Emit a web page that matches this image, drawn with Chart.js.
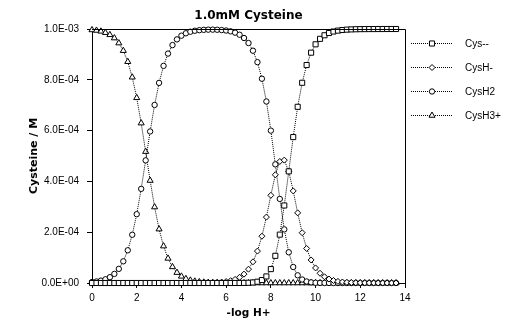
<!DOCTYPE html>
<html lang="en">
<head>
<meta charset="UTF-8">
<title>1.0mM Cysteine</title>
<script src="https://cdn.jsdelivr.net/npm/chart.js"></script>
<style>
  body { margin: 0; background: #fff; }
  #wrap { width: 520px; height: 330px; }
</style>
</head>
<body>
<div id="wrap"><canvas id="myChart" width="520" height="330"></canvas></div>
<script>
// -log H+ values (x axis)
const pH = [0, 0.2, 0.4, 0.6, 0.8, 1, 1.2, 1.4, 1.6, 1.8,
  2, 2.2, 2.4, 2.6, 2.8, 3, 3.2, 3.4, 3.6, 3.8,
  4, 4.2, 4.4, 4.6, 4.8, 5, 5.2, 5.4, 5.6, 5.8,
  6, 6.2, 6.4, 6.6, 6.8, 7, 7.2, 7.4, 7.6, 7.8,
  8, 8.2, 8.4, 8.6, 8.8, 9, 9.2, 9.4, 9.6, 9.8,
  10, 10.2, 10.4, 10.6, 10.8, 11, 11.2, 11.4, 11.6, 11.8,
  12, 12.2, 12.4, 12.6, 12.8, 13, 13.2, 13.4, 13.6];

// concentrations in mM (converted to M when plotted)
const cys = [0, 0, 0, 0, 0, 0, 0, 0, 0, 0,
  0, 0, 0, 0, 0, 0, 0, 0, 0, 0,
  0, 0, 0, 0, 0, 0, 0, 0, 0, 0,
  0, 0, 0.0001, 0.0001, 0.0004, 0.0009, 0.0021, 0.0050, 0.0116, 0.0259,
  0.0547, 0.1070, 0.1905, 0.3052, 0.4395, 0.5745, 0.6936, 0.7883, 0.8581, 0.9068,
  0.9397, 0.9613, 0.9753, 0.9843, 0.9901, 0.9937, 0.9960, 0.9975, 0.9984, 0.9990,
  0.9994, 0.9996, 0.9997, 0.9998, 0.9999, 0.9999, 1.0000, 1.0000, 1.0000];

const cysH = [0, 0, 0, 0, 0, 0, 0, 0, 0, 0,
  0, 0, 0, 0, 0, 0, 0, 0, 0, 0,
  0.0001, 0.0001, 0.0001, 0.0002, 0.0004, 0.0006, 0.0009, 0.0014, 0.0023, 0.0036,
  0.0057, 0.0090, 0.0142, 0.0224, 0.0350, 0.0544, 0.0834, 0.1257, 0.1842, 0.2595,
  0.3453, 0.4260, 0.4785, 0.4837, 0.4395, 0.3625, 0.2761, 0.1980, 0.1360, 0.0907,
  0.0593, 0.0383, 0.0245, 0.0156, 0.0099, 0.0063, 0.0040, 0.0025, 0.0016, 0.0010,
  0.0006, 0.0004, 0.0003, 0.0002, 0.0001, 0.0001, 0, 0, 0];

const cysH2 = [0.0037, 0.0059, 0.0093, 0.0146, 0.0229, 0.0358, 0.0556, 0.0854, 0.1288, 0.1899,
  0.2709, 0.3706, 0.4828, 0.5966, 0.7010, 0.7879, 0.8548, 0.9032, 0.9367, 0.9591,
  0.9737, 0.9832, 0.9893, 0.9931, 0.9954, 0.9967, 0.9974, 0.9975, 0.9970, 0.9959,
  0.9940, 0.9908, 0.9856, 0.9774, 0.9646, 0.9448, 0.9145, 0.8694, 0.8042, 0.7146,
  0.6000, 0.4671, 0.3310, 0.2111, 0.1210, 0.0630, 0.0303, 0.0137, 0.0059, 0.0025,
  0.0010, 0.0004, 0.0002, 0.0001, 0, 0, 0, 0, 0, 0,
  0, 0, 0, 0, 0, 0, 0, 0, 0];

const cysH3 = [0.9963, 0.9942, 0.9908, 0.9854, 0.9771, 0.9642, 0.9444, 0.9146, 0.8712, 0.8101,
  0.7291, 0.6294, 0.5172, 0.4034, 0.2990, 0.2121, 0.1452, 0.0968, 0.0633, 0.0409,
  0.0262, 0.0167, 0.0106, 0.0067, 0.0043, 0.0027, 0.0017, 0.0011, 0.0007, 0.0004,
  0.0003, 0.0002, 0.0001, 0.0001, 0, 0, 0, 0, 0, 0,
  0, 0, 0, 0, 0, 0, 0, 0, 0, 0,
  0, 0, 0, 0, 0, 0, 0, 0, 0, 0,
  0, 0, 0, 0, 0, 0, 0, 0, 0];

const seriesNames = ['Cys--', 'CysH-', 'CysH2', 'CysH3+'];
const seriesValues = [cys, cysH, cysH2, cysH3];
const pointStyles = ['rect', 'rectRot', 'circle', 'triangle'];
const pointSizes = [3.6, 3, 2.7, 3.5];

const yTicks = [0, 0.0002, 0.0004, 0.0006, 0.0008, 0.001];

function toPoints(values) {
  return values.map((v, i) => ({ x: pH[i], y: v / 1000 }));
}

// 6.0E-04 style labels
function sciLabel(v) {
  if (Math.abs(v) < 1e-12) return '0.0E+00';
  const parts = v.toExponential(1).split('e');
  const n = parseInt(parts[1], 10);
  return parts[0] + 'E' + (n < 0 ? '-' : '+') + String(Math.abs(n)).padStart(2, '0');
}

// top and right edges of the plot box
const frameBox = {
  id: 'frameBox',
  afterDraw(chart) {
    const { ctx, chartArea: a } = chart;
    ctx.save();
    ctx.strokeStyle = '#000';
    ctx.lineWidth = 1;
    ctx.beginPath();
    ctx.moveTo(Math.round(a.left), Math.round(a.top) + 0.5);
    ctx.lineTo(Math.round(a.right) + 0.5, Math.round(a.top) + 0.5);
    ctx.lineTo(Math.round(a.right) + 0.5, Math.round(a.bottom));
    ctx.stroke();
    ctx.restore();
  }
};

// legend on the right: dotted line with marker, then name
const sideLegend = {
  id: 'sideLegend',
  afterDraw(chart) {
    const { ctx, chartArea: a } = chart;
    const x0 = a.right + 6, x1 = a.right + 48, xm = a.right + 27;
    ctx.save();
    chart.data.datasets.forEach((ds, i) => {
      const y = a.top + 14 + i * 24;
      ctx.strokeStyle = '#000';
      ctx.lineWidth = 1;
      ctx.setLineDash([1, 1]);
      ctx.beginPath();
      ctx.moveTo(x0, y + 0.5);
      ctx.lineTo(x1, y + 0.5);
      ctx.stroke();
      ctx.setLineDash([]);
      ctx.fillStyle = '#fff';
      Chart.helpers.drawPoint(ctx, { pointStyle: ds.pointStyle, radius: ds.pointRadius, borderWidth: 1 }, xm, y + 0.5);
      ctx.fillStyle = '#000';
      ctx.font = '10px "Liberation Sans", Arial, sans-serif';
      ctx.textBaseline = 'middle';
      ctx.textAlign = 'left';
      ctx.fillText(ds.label, a.right + 60, y + 1);
    });
    ctx.restore();
  }
};

const datasets = seriesNames.map((name, i) => ({
  label: name,
  data: toPoints(seriesValues[i]),
  borderColor: '#000',
  borderWidth: 1,
  borderDash: [1, 1],
  pointStyle: pointStyles[i],
  pointRadius: pointSizes[i],
  pointBackgroundColor: '#fff',
  pointBorderColor: '#000',
  pointBorderWidth: 1,
  tension: 0,
  clip: false
}));

const tickFont = { family: '"Liberation Sans", Arial, sans-serif', size: 10 };

new Chart(document.getElementById('myChart'), {
  type: 'line',
  data: { datasets: datasets },
  options: {
    responsive: false,
    animation: false,
    layout: { padding: { left: 0, right: 115, top: 0, bottom: 0 } },
    plugins: {
      legend: { display: false },
      tooltip: { enabled: false },
      title: {
        display: true,
        text: '1.0mM Cysteine',
        fullSize: false,
        color: '#000',
        font: { family: '"DejaVu Sans", sans-serif', size: 12, weight: 'bold' },
        padding: { top: 8.5, bottom: 6.1 }
      }
    },
    scales: {
      x: {
        type: 'linear',
        min: 0,
        max: 14,
        afterFit: s => { s.height = 47; },
        ticks: { stepSize: 2, color: '#000', font: tickFont, padding: 4, maxRotation: 0 },
        grid: { drawOnChartArea: false, drawTicks: true, tickLength: 5, color: '#000' },
        border: { display: true, color: '#000', width: 1 },
        title: {
          display: true,
          text: '-log H+',
          color: '#000',
          font: { family: '"DejaVu Sans", sans-serif', size: 10.5, weight: 'bold' },
          padding: { top: 0, bottom: 10.7 }
        }
      },
      y: {
        min: 0,
        max: 0.001,
        afterFit: s => { s.width = 92; },
        afterBuildTicks: s => { s.ticks = yTicks.map(v => ({ value: v })); },
        ticks: { color: '#000', font: tickFont, padding: 8, callback: v => sciLabel(v) },
        grid: { drawOnChartArea: false, drawTicks: true, tickLength: 5, color: '#000' },
        border: { display: true, color: '#000', width: 1 },
        title: {
          display: true,
          text: 'Cysteine / M',
          color: '#000',
          font: { family: '"DejaVu Sans", sans-serif', size: 11, weight: 'bold' },
          padding: { top: 28, bottom: 0 }
        }
      }
    }
  },
  plugins: [frameBox, sideLegend]
});
</script>
</body>
</html>
